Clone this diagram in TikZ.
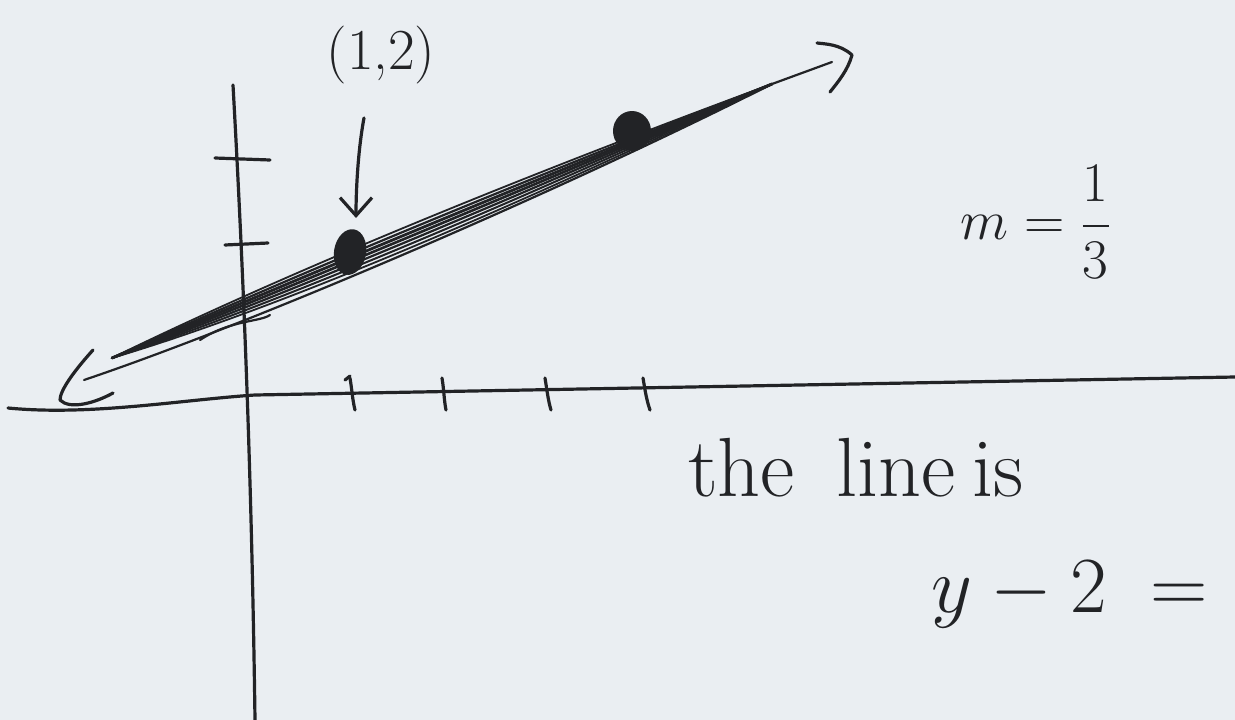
\documentclass[tikz,border=0pt]{standalone}
\usepackage{amsmath,amssymb}
\usepackage{graphicx}
\usepackage{tikz}
\usetikzlibrary{calc,positioning,arrows.meta}
\definecolor{paper}{HTML}{EAEEF2}
\definecolor{ink}{HTML}{222326}
\tikzset{
  pen/.style={ink,line width=3.2pt,line cap=round,line join=round},
  thinpen/.style={ink,line width=2.2pt,line cap=round,line join=round},
  hand/.style={ink,inner sep=0pt}
}
\begin{document}
\begin{tikzpicture}[x=1pt,y=-1pt]
  \fill[paper] (0,0) rectangle (1235,720);
  \useasboundingbox (0,0) rectangle (1235,720);
  % axes
  \coordinate (Ytop) at (233,85);
  \coordinate (Ybot) at (255,720);
  \coordinate (Xl) at (8,408);
  \coordinate (Xr) at (1235,377);
  \draw[pen] (Ytop) .. controls (245,300) and (252,500) .. (Ybot);
  \draw[pen] (Xl) .. controls (90,416) and (180,400) .. (255,395) -- (Xr);
  \draw[pen] (215,158) -- (270,160);
  \draw[pen] (225,245) -- (268,243);
  \foreach \x/\d in {350/5,442/4,545/6,643/7}{
    \draw[pen] (\x,378) .. controls (\x+2,390) and (\x+\d/2,400) .. (\x+\d,410);
  }
  \draw[pen] (345,380) -- (350,376);
  % the line
  \coordinate (Lend) at (112,358);
  \coordinate (Rend) at (772,84);
  \coordinate (Tip) at (832,62);
  \coordinate (P) at (350,252);
  \coordinate (Q) at (632,131);
  \foreach \a/\b/\w in {-14/-9/1.8,-8/-5/2.2,-2/-1/2.8,4/3/2.6,10/7/2.2,16/11/2.0,22/15/1.8}{
    \draw[ink,line width=\w pt,line cap=round] (Lend) .. controls ($(300,280)+(0,\a)$) and ($(550,175)+(0,\b)$) .. (Rend);
  }
  \draw[thinpen] (84,380) .. controls (250,324) and (550,196) .. (Rend);
  \draw[thinpen] (200,340) .. controls (230,320) and (260,322) .. (270,315);
  \draw[thinpen] (Rend) -- (Tip);
  % arrow heads
  \draw[pen] (93,350) .. controls (75,370) and (60,390) .. (60,400) .. controls (70,410) and (95,403) .. (113,393);
  \draw[pen] (817,43) .. controls (825,44) and (840,44) .. (852,55) .. controls (848,70) and (838,82) .. (830,92);
  % points
  \fill[ink,rotate around={-10:(P)}] (P) ellipse (16 and 23);
  \fill[ink] (Q) ellipse (19 and 20);
  % labels
  \node[hand,font=\fontsize{58}{64}\selectfont] (lab) at (381,55) {(1,2)};
  \coordinate (arrS) at (364,118);
  \coordinate (arrE) at (356,218);
  \draw[pen,-{Straight Barb[length=18pt,width=32pt,line width=3.2pt]}] (arrS) .. controls (358,150) and (356,190) .. (arrE);
  \node[hand] (slope) at (1036,222) {\scalebox{2.25}{\Huge$m=\dfrac{1}{3}$}};
  \node[hand,font=\fontsize{84}{90}\selectfont] (txt) at (856,468) {the\hspace{0.5em}line\hspace{0.2em}is};
  \node[hand] (eqn) at (1070,595) {\scalebox{3.2}{\Huge$y-2\;=$}};
\end{tikzpicture}
\end{document}
